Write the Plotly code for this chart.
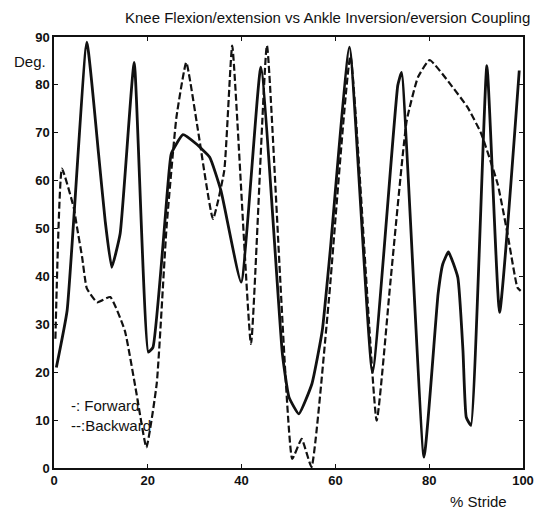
import plotly.graph_objects as go

# Forward (solid) curve
fwd_x = [0.5, 2.8, 7.0, 9.5, 10.9, 12.3, 14.1, 17.1, 20.1, 21.1, 24.3, 25.0, 27.5, 30.3, 33.2, 35.6,
         39.9, 44.1, 48.7, 50.1, 52.2, 55.0, 57.2, 58.9, 63.0, 67.9, 73.3, 74.1, 78.9, 81.9, 82.9,
         84.1, 86.1, 87.2, 87.9, 88.9, 92.3, 95.0, 99.2]
fwd_y = [21.0, 32.9, 88.9, 65.6, 51.7, 41.9, 48.9, 84.7, 24.2, 25.2, 59.3, 65.6, 69.6, 67.7, 64.9, 57.9,
         38.8, 83.7, 23.8, 14.8, 11.3, 17.6, 28.7, 45.4, 87.9, 20.0, 79.9, 82.6, 2.3, 36.4, 42.6,
         45.1, 39.8, 24.5, 10.6, 8.9, 84.0, 32.5, 83.0]

# Backward (dashed) curve
bwd_x = [0.3, 1.7, 4.2, 4.9, 6.0, 7.0, 9.2, 12.0, 15.1, 17.6, 19.7, 21.9, 24.0, 26.1, 28.2, 30.7,
         33.9, 36.3, 38.0, 42.0, 45.4, 50.8, 52.8, 54.9, 58.6, 63.2, 68.8, 71.7, 75.2, 77.6, 80.1,
         84.7, 88.2, 91.1, 94.6, 96.7, 98.8, 99.5]
bwd_y = [27.0, 62.5, 54.4, 50.3, 44.0, 37.5, 34.6, 35.7, 28.7, 15.5, 4.3, 17.6, 50.3, 73.2, 84.7, 70.5,
         52.0, 62.1, 88.2, 25.9, 88.2, 1.9, 6.1, 0.2, 35.0, 86.0, 9.9, 38.5, 72.5, 81.6, 85.2,
         79.9, 75.3, 69.8, 59.3, 48.9, 37.7, 37.0]

x_ticks = [0, 20, 40, 60, 80, 100]
y_ticks = [0, 10, 20, 30, 40, 50, 60, 70, 80, 90]

FONT = "Liberation Sans, Arial, sans-serif"
INK = "#111111"

fig = go.Figure()
fig.add_trace(go.Scatter(x=fwd_x, y=fwd_y, mode="lines", name="Forward",
                         line=dict(color=INK, width=2.8, shape="spline", smoothing=0.4)))
fig.add_trace(go.Scatter(x=bwd_x, y=bwd_y, mode="lines", name="Backward",
                         line=dict(color=INK, width=2.2, dash="7px,3px", shape="spline", smoothing=0.4)))

axis_common = dict(showgrid=False, zeroline=False, showline=True, linecolor=INK, linewidth=1.5,
                   mirror="ticks", ticks="inside", ticklen=4, tickcolor=INK,
                   tickfont=dict(family=FONT, size=13, color=INK, weight="bold"))

fig.update_xaxes(range=[0, 100], tickvals=x_ticks, **axis_common)
fig.update_yaxes(range=[0, 90], tickvals=y_ticks, **axis_common)

PL, PB, PW, PH = 54, 47, 472, 431
def px(x):
    return (x - PL) / PW
def py(y):
    return (515 - PB - y) / PH

fig.update_layout(
    width=546, height=515,
    margin=dict(l=PL, r=546 - PL - PW, t=515 - PB - PH, b=PB),
    paper_bgcolor="white", plot_bgcolor="white",
    showlegend=False,
    annotations=[
        dict(text="Knee Flexion/extension vs Ankle Inversion/eversion Coupling", xref="paper", yref="paper",
             x=px(535), y=py(18), xanchor="right", yanchor="middle",
             showarrow=False, font=dict(family=FONT, size=15, color=INK)),
        dict(text="Deg.", xref="paper", yref="paper", x=px(12), y=py(62),
             xanchor="left", yanchor="middle", showarrow=False,
             font=dict(family=FONT, size=15, color=INK)),
        dict(text="% Stride", xref="paper", yref="paper", x=px(512), y=py(502),
             xanchor="right", yanchor="middle", showarrow=False,
             font=dict(family=FONT, size=15, color=INK)),
        dict(text="-: Forward", xref="paper", yref="paper", x=px(69), y=py(405),
             xanchor="left", yanchor="middle", showarrow=False,
             font=dict(family=FONT, size=15, color=INK)),
        dict(text="--:Backward", xref="paper", yref="paper", x=px(69), y=py(425),
             xanchor="left", yanchor="middle", showarrow=False,
             font=dict(family=FONT, size=15, color=INK)),
    ],
)

fig.write_html("out.html")
